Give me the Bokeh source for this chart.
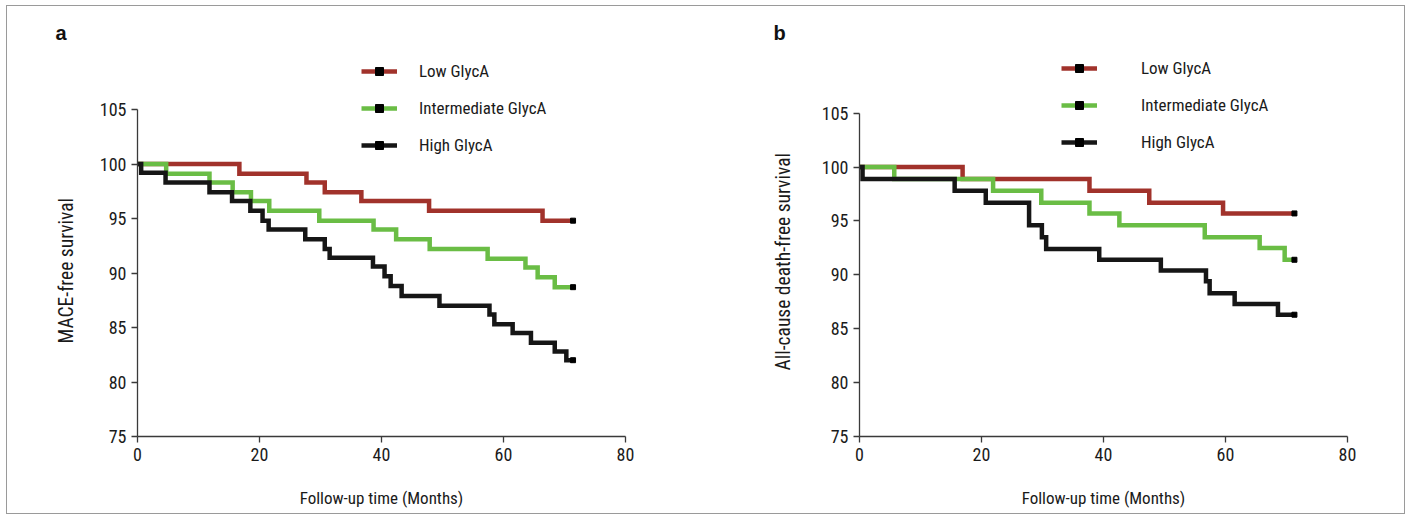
from bokeh.plotting import figure
from bokeh.layouts import row
from bokeh.models import Range1d, FixedTicker, Legend, LegendItem, Title
from bokeh.embed import file_html
from bokeh.resources import INLINE

# ---------------- data ----------------
groups = ["Low GlycA", "Intermediate GlycA", "High GlycA"]
colors = ["#a1322b", "#6abd45", "#161616"]

x_ticks = [0, 20, 40, 60, 80]
y_ticks = [75, 80, 85, 90, 95, 100, 105]

# Panel a: MACE-free survival (step times in months, survival %)
a_low_t = [0, 16.7, 27.7, 30.7, 36.7, 47.8, 66.4, 71.4]
a_low_s = [100, 99.1, 98.3, 97.4, 96.6, 95.7, 94.8, 94.8]
a_mid_t = [0, 4.7, 11.8, 15.6, 18.6, 21.6, 29.8, 38.7, 42.4, 47.9, 57.4, 63.6, 65.6, 68.4, 71.4]
a_mid_s = [100, 99.1, 98.3, 97.4, 96.6, 95.7, 94.8, 94.0, 93.1, 92.2, 91.3, 90.5, 89.6, 88.7, 88.7]
a_high_t = [0, 0.6, 4.6, 11.8, 15.5, 18.5, 20.5, 21.5, 27.5, 30.7, 31.5, 38.6, 40.5, 41.5, 43.3,
            49.5, 57.7, 58.5, 61.5, 64.5, 68.4, 70.3, 71.4]
a_high_s = [100, 99.2, 98.3, 97.4, 96.6, 95.7, 94.8, 94.0, 93.1, 92.2, 91.4, 90.6, 89.7, 88.8, 87.9,
            87.0, 86.2, 85.3, 84.5, 83.6, 82.8, 82.0, 82.0]

# Panel b: All-cause death-free survival
b_low_t = [0, 16.9, 37.7, 47.5, 59.6, 71.3]
b_low_s = [100, 98.9, 97.8, 96.7, 95.7, 95.7]
b_mid_t = [0, 5.7, 21.9, 29.8, 37.7, 42.6, 56.6, 65.6, 69.7, 71.3]
b_mid_s = [100, 98.9, 97.8, 96.7, 95.7, 94.6, 93.5, 92.5, 91.4, 91.4]
b_high_t = [0, 0.5, 15.6, 20.7, 27.8, 29.9, 30.6, 39.3, 49.4, 56.8, 57.4, 61.5, 68.6, 71.3]
b_high_s = [100, 98.9, 97.8, 96.7, 94.6, 93.5, 92.4, 91.4, 90.4, 89.4, 88.3, 87.3, 86.3, 86.3]

FONT = "'Liberation Sans Narrow', 'Roboto Condensed', 'DejaVu Sans Condensed', 'Open Sans'"
AXC = "#3a3a3a"
TXT = "#1a1a1a"


def make_panel(letter, ylabel, series, width, height, mb, y_end, legend_loc,
               legend_spacing, label_standoff, letter_offset, ylab_offset, ylab_standoff):
    left, right, top, bottom = mb
    p = figure(width=width, height=height, output_backend="svg", toolbar_location=None,
               x_range=Range1d(0, 80), y_range=Range1d(75, y_end),
               min_border_left=left, min_border_right=right,
               min_border_top=top, min_border_bottom=bottom)
    p.outline_line_color = None
    p.xgrid.grid_line_color = None
    p.ygrid.grid_line_color = None
    p.background_fill_color = "white"
    p.border_fill_color = "white"

    for ax in (p.xaxis[0], p.yaxis[0]):
        ax.axis_line_color = AXC
        ax.axis_line_width = 1.3
        ax.major_tick_line_color = AXC
        ax.major_tick_line_width = 1.3
        ax.major_tick_out = 6
        ax.major_tick_in = 0
        ax.minor_tick_line_color = None
        ax.major_label_text_font = FONT
        ax.major_label_text_font_size = "18px"
        ax.major_label_text_color = TXT
        ax.major_label_standoff = 5
    p.xaxis.ticker = FixedTicker(ticks=x_ticks)
    p.yaxis.ticker = FixedTicker(ticks=y_ticks)
    p.xaxis.bounds = (0, 80)
    p.yaxis.bounds = (75, 105)
    p.xaxis.axis_label = "Follow-up time (Months)"
    p.xaxis.axis_label_text_font = FONT
    p.xaxis.axis_label_text_font_style = "normal"
    p.xaxis.axis_label_text_font_size = "17px"
    p.xaxis.axis_label_text_color = TXT
    p.xaxis.axis_label_standoff = 24

    items = []
    for (t, s), name, col in zip(series, groups, colors):
        r = p.step(t, s, mode="after", line_color=col, line_width=4.5, line_join="miter")
        c = p.scatter([t[-1]], [s[-1]], marker="square", size=5, color="#000000")
        items.append(LegendItem(label=name, renderers=[r, c]))

    leg = Legend(items=items, location=legend_loc, orientation="vertical",
                 glyph_width=36, glyph_height=20, label_height=20,
                 spacing=legend_spacing, label_standoff=label_standoff,
                 padding=0, margin=0, border_line_color=None,
                 background_fill_alpha=0,
                 label_text_font=FONT, label_text_font_size="17px",
                 label_text_color=TXT)
    p.add_layout(leg)

    p.title = Title(text=letter, align="left", offset=letter_offset, standoff=6,
                    vertical_align="bottom", text_font="Liberation Sans",
                    text_font_style="bold", text_font_size="20px", text_color="#111111")
    p.add_layout(Title(text=ylabel, align="left", offset=ylab_offset, standoff=ylab_standoff,
                       text_font=FONT, text_font_style="normal", text_font_size="19.5px",
                       text_color=TXT), "left")
    return p


pa = make_panel("a", "MACE-free survival",
                [(a_low_t, a_low_s), (a_mid_t, a_mid_s), (a_high_t, a_high_s)],
                width=714, height=507, mb=(130, 96, 40, 77), y_end=110.78,
                legend_loc=(224, 281), legend_spacing=17, label_standoff=22,
                letter_offset=-82, ylab_offset=93, ylab_standoff=38)
pb = make_panel("b", "All-cause death-free survival",
                [(b_low_t, b_low_s), (b_mid_t, b_mid_s), (b_high_t, b_high_s)],
                width=683, height=507, mb=(138, 57, 40, 75), y_end=111.19,
                legend_loc=(202, 284), legend_spacing=17, label_standoff=44,
                letter_offset=-86, ylab_offset=66, ylab_standoff=47)

layout = row(pa, pb, styles={"border": "1.5px solid #9a9a9a", "margin": "5px 0 0 6px"})

open("out.html", "w").write(file_html(layout, INLINE))
